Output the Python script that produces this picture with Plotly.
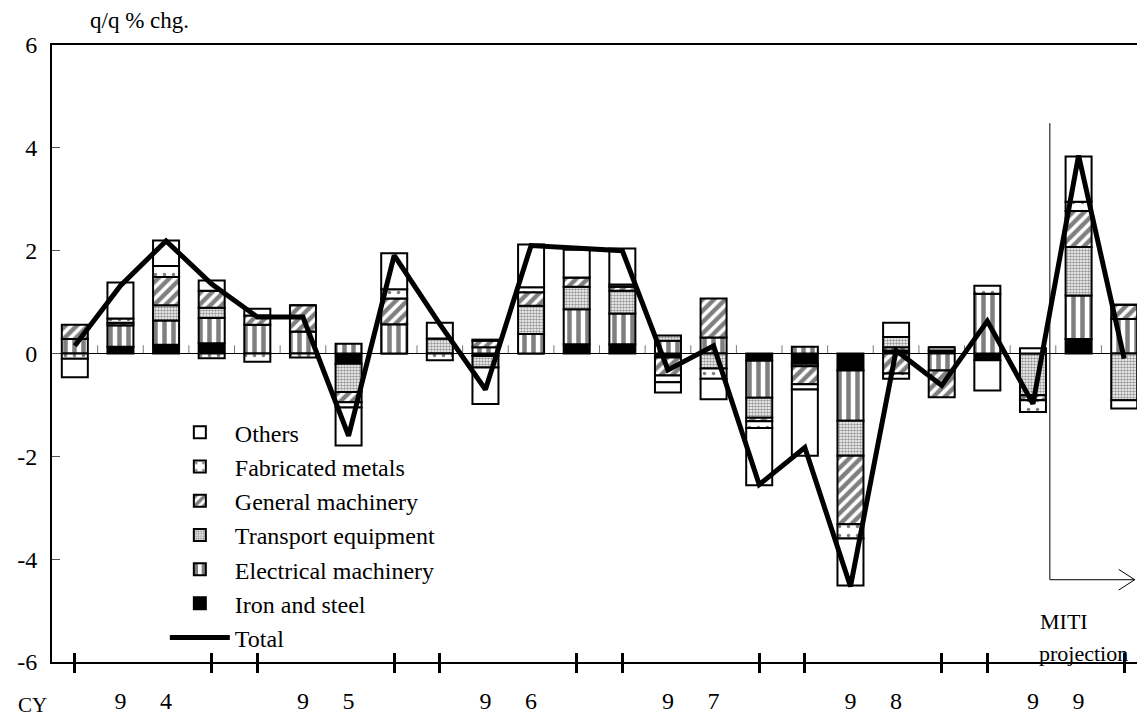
import plotly.graph_objects as go

quarters = [f"{y}Q{q}" for y in range(1994, 2000) for q in range(1, 5)]

iron_steel = [0, 0.13, 0.17, 0.20, 0, 0, -0.20, 0, 0, -0.05, 0, 0.18,
              0.18, -0.08, 0, -0.14, -0.20, -0.33, 0.06, 0.06, -0.13, 0, 0.28, 0]
electrical = [0.28, 0.42, 0.47, 0.49, 0.56, 0.43, 0.19, 0.57, 0, 0.12, 0.38, 0.68,
              0.60, 0.25, 0.31, -0.72, 0.13, -0.98, 0.06, -0.33, 1.16, 0, 0.85, 0.67]
transport = [0, 0, 0.30, 0.20, 0, 0, -0.55, 0, 0.29, -0.22, 0.55, 0.44,
             0.44, 0.10, -0.29, -0.39, -0.05, -0.68, 0.20, 0, 0, -0.81, 0.94, -0.91]
general = [0.28, 0.05, 0.55, 0.33, 0.18, 0.51, -0.20, 0.50, 0, 0.13, 0.26, 0.18,
           0.08, -0.35, 0.76, -0.07, -0.35, -1.33, -0.39, -0.52, 0, -0.10, 0.70, 0.28]
fabricated = [-0.10, 0.08, 0.21, -0.09, -0.16, -0.08, -0.10, 0.18, -0.13, 0.02, 0.10, 0,
              0.04, -0.13, -0.20, -0.13, -0.10, -0.28, -0.10, 0.06, 0.16, -0.23, 0.18, 0]
others = [-0.36, 0.70, 0.50, 0.20, 0.13, 0, -0.74, 0.70, 0.31, -0.71, 0.83, 0.54,
          0.70, -0.20, -0.40, -1.11, -1.29, -0.91, 0.28, 0, -0.59, 0.10, 0.88, -0.16]
total = [0.15, 1.32, 2.19, 1.35, 0.71, 0.71, -1.60, 1.91, 0.57, -0.70, 2.10, 2.04,
         2.00, -0.32, 0.15, -2.55, -1.83, -4.53, 0.06, -0.62, 0.63, -0.98, 3.85, -0.10]

year_digits = ["9", "4", "9", "5", "9", "6", "9", "7", "9", "8", "9", "9"]
y_ticks = [-6, -4, -2, 0, 2, 4, 6]

FONT = "Liberation Serif"
XR = [-0.5, 23.28]

series = [
    ("Iron and steel", iron_steel, dict(color="black")),
    ("Electrical machinery", electrical,
     dict(color="white", pattern=dict(shape="|", fgcolor="black", bgcolor="white", size=9, solidity=0.5))),
    ("Transport equipment", transport,
     dict(color="white", pattern=dict(shape=".", fgcolor="#333", bgcolor="white", size=3, solidity=0.55))),
    ("General machinery", general,
     dict(color="white", pattern=dict(shape="/", fgcolor="black", bgcolor="white", size=8, solidity=0.55))),
    ("Fabricated metals", fabricated,
     dict(color="white", pattern=dict(shape=".", fgcolor="black", bgcolor="white", size=9, solidity=0.12))),
    ("Others", others, dict(color="white")),
]
ranks = {"Others": 1, "Fabricated metals": 2, "General machinery": 3,
         "Transport equipment": 4, "Electrical machinery": 5, "Iron and steel": 6, "Total": 7}

fig = go.Figure()
for name, vals, mk in series:
    fig.add_trace(go.Bar(
        x=quarters, y=vals, name=name, legendrank=ranks[name],
        marker=dict(line=dict(color="black", width=2), **mk),
    ))
fig.add_trace(go.Scatter(
    x=quarters, y=total, name="Total", mode="lines", legendrank=ranks["Total"],
    line=dict(color="black", width=5),
))
# empty helper traces so that the overlay axes get drawn
for ax in ["x2", "x3"]:
    fig.add_trace(go.Scatter(x=[None], y=[None], xaxis=ax, yaxis="y", mode="markers",
                             showlegend=False, hoverinfo="skip"))

idx_q14 = [i for i, q in enumerate(quarters) if q.endswith("Q1") or q.endswith("Q4")]
idx_q23 = [i for i, q in enumerate(quarters) if q.endswith("Q2") or q.endswith("Q3")]
boundaries = [i + 0.5 for i in range(len(quarters) - 1)]

fig.update_layout(
    width=1137, height=718,
    margin=dict(l=52, r=0, t=45, b=56, autoexpand=False),
    paper_bgcolor="white", plot_bgcolor="white",
    barmode="relative", bargap=0.43,
    font=dict(family=FONT, size=24, color="black"),
    showlegend=True,
    legend=dict(
        x=0.104, y=0.408, xanchor="left", yanchor="top",
        bgcolor="rgba(0,0,0,0)", traceorder="normal",
        font=dict(family=FONT, size=24, color="black"), itemwidth=60,
    ),
    xaxis=dict(
        type="category", range=XR, showline=True, linecolor="black", linewidth=2,
        mirror=True, ticks="outside", ticklen=9, tickwidth=3, tickcolor="black",
        tickmode="array", tickvals=[quarters[i] for i in idx_q14],
        showticklabels=False, showgrid=False, zeroline=False,
    ),
    xaxis2=dict(
        overlaying="x", anchor="y", side="bottom", range=XR, showline=False,
        ticks="", tickmode="array", tickvals=idx_q23, ticktext=year_digits,
        showgrid=False, zeroline=False, ticklabelstandoff=22,
        tickfont=dict(family=FONT, size=24, color="black"),
    ),
    xaxis3=dict(
        overlaying="x", anchor="y", side="bottom", range=XR, showline=False,
        ticks="inside", ticklen=9, tickwidth=3, tickcolor="black",
        tickmode="array", tickvals=idx_q14, showticklabels=False,
        showgrid=False, zeroline=False,
    ),
    yaxis=dict(
        range=[-6, 6], tickmode="array", tickvals=y_ticks,
        ticktext=[str(v) for v in y_ticks], showline=True, linecolor="black",
        linewidth=2, ticks="inside", ticklen=8, tickwidth=1, tickcolor="#555",
        showgrid=False, zeroline=True, zerolinecolor="black", zerolinewidth=1,
        ticklabelstandoff=8,
        tickfont=dict(family=FONT, size=24, color="black"),
    ),
)

# small category-boundary ticks on the zero line
for b in boundaries:
    fig.add_shape(type="line", xref="x", yref="y", x0=b, x1=b, y0=0, y1=0.16,
                  line=dict(color="#777", width=1), layer="below")

# MITI projection marker
x_proj = 21.37
fig.add_shape(type="line", xref="x", yref="y", x0=x_proj, x1=x_proj, y0=4.48, y1=-4.4,
              line=dict(color="black", width=1))
fig.add_shape(type="line", xref="x", yref="y", x0=x_proj, x1=23.23, y0=-4.4, y1=-4.4,
              line=dict(color="black", width=1))
fig.add_shape(type="line", xref="x", yref="y", x0=22.88, x1=23.23, y0=-4.2, y1=-4.4,
              line=dict(color="black", width=1))
fig.add_shape(type="line", xref="x", yref="y", x0=22.88, x1=23.23, y0=-4.6, y1=-4.4,
              line=dict(color="black", width=1))

fig.add_annotation(text="q/q % chg.", xref="paper", yref="paper", x=0.033, y=1.04,
                   xanchor="left", yanchor="middle", showarrow=False,
                   font=dict(family=FONT, size=23, color="black"))
fig.add_annotation(text="CY", xref="paper", yref="paper", x=-0.018, y=-0.07,
                   xanchor="center", yanchor="middle", showarrow=False,
                   font=dict(family=FONT, size=21, color="black"))
fig.add_annotation(text="MITI", xref="paper", yref="paper", x=0.909, y=0.065,
                   xanchor="left", yanchor="middle", showarrow=False,
                   font=dict(family=FONT, size=22, color="black"))
fig.add_annotation(text="projection", xref="paper", yref="paper", x=0.908, y=0.014,
                   xanchor="left", yanchor="middle", showarrow=False,
                   font=dict(family=FONT, size=22, color="black"))

fig.write_html("out.html", config={"displayModeBar": False},
               post_script="document.body.style.margin='0';document.body.style.overflow='hidden';")
